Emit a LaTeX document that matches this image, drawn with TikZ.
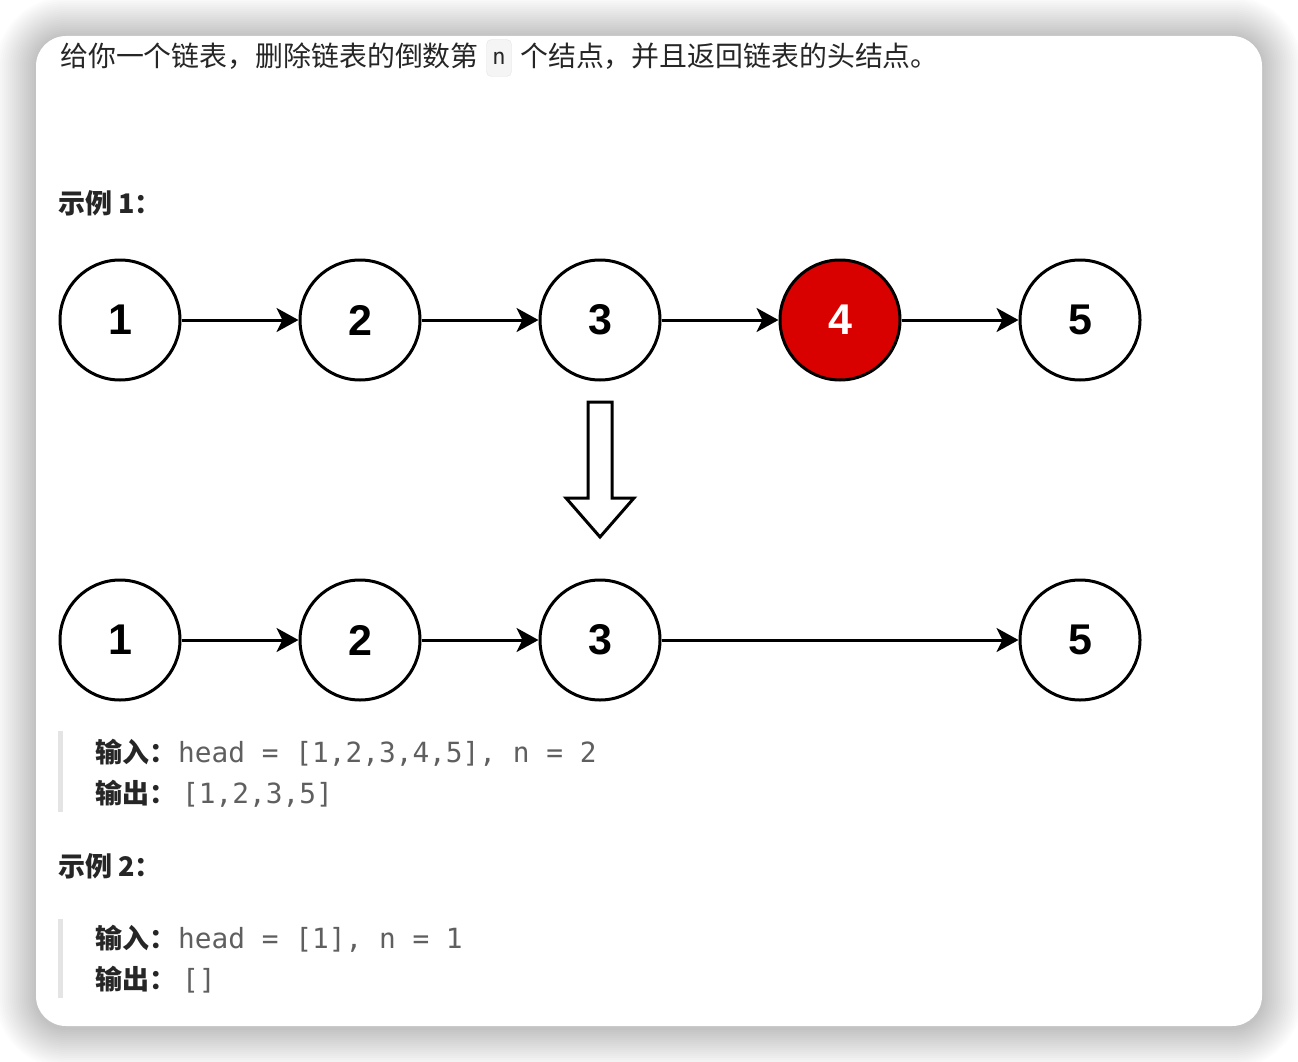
\documentclass[tikz,border=0pt]{standalone}
\usepackage{fontspec}
\setmainfont{Noto Sans CJK SC}
\newfontfamily\cjkf{Noto Sans CJK SC}
\newfontfamily\monof{DejaVu Sans Mono}
\newfontfamily\digitf{Liberation Sans}
\usetikzlibrary{arrows.meta}
\definecolor{txt}{HTML}{262626}
\definecolor{codegray}{HTML}{5F5F5F}
\definecolor{nodered}{HTML}{D90000}
\definecolor{barcol}{HTML}{E4E4E4}
\tikzset{
  lnode/.style={circle,draw=black,line width=3pt,minimum size=120pt,inner sep=0pt,fill=white,
    font=\digitf\bfseries\fontsize{43}{43}\selectfont},
  rednode/.style={lnode,fill=nodered,text=white},
  link/.style={line width=3pt,-{Stealth[length=22pt,width=24pt,inset=6pt]}},
  cjktext/.style={anchor=base west,inner sep=0pt,text=txt,font=\cjkf\fontsize{27.9}{30}\selectfont},
  cjkbold/.style={cjktext,font=\cjkf\bfseries\fontsize{27}{30}\selectfont},
  monotext/.style={anchor=base west,inner sep=0pt,text=codegray,font=\monof\fontsize{27.8}{30}\selectfont},
  qbar/.style={fill=barcol,draw=none},
}
\begin{document}
\begin{tikzpicture}[x=1pt,y=-1pt]
\useasboundingbox (0,0) rectangle (1298,1062);
\fill[white] (0,0) rectangle (1298,1062);
% shadow
\foreach \i in {1,...,20}{
  \fill[black,opacity=0.0105,rounded corners={30pt+\i*2pt}]
    ({36-\i*2},{37-\i*2}) rectangle ({1262+\i*2},{1028+\i*2});
}
% card
\fill[white,rounded corners=30pt] (36,36) rectangle (1262,1026);

% title
\node[cjktext] (t1) at (60,67) {给你一个链表，删除链表的倒数第};
\node[draw=barcol,fill=black!4,rounded corners=5pt,minimum width=25pt,minimum height=37pt,inner sep=0pt,
  text=txt,font=\monof\fontsize{22}{22}\selectfont] (code) at (499,58) {n};
\node[cjktext] (t2) at (520,67) {个结点，并且返回链表的头结点。};

% example 1
\node[cjkbold] (ex1) at (58,213) {示例 1：};

\node[lnode] (a1) at (120,320) {1};
\node[lnode] (a2) at (360,320) {2};
\node[lnode] (a3) at (600,320) {3};
\node[rednode] (a4) at (840,320) {4};
\node[lnode] (a5) at (1080,320) {5};
\draw[link] (a1) -- (a2);
\draw[link] (a2) -- (a3);
\draw[link] (a3) -- (a4);
\draw[link] (a4) -- (a5);

% hollow arrow
\draw[line width=3pt,fill=white,line join=miter]
  (588,402) -- (612,402) -- (612,498) -- (634,498) -- (600,537) -- (566,498) -- (588,498) -- cycle;

\node[lnode] (b1) at (120,640) {1};
\node[lnode] (b2) at (360,640) {2};
\node[lnode] (b3) at (600,640) {3};
\node[lnode] (b5) at (1080,640) {5};
\draw[link] (b1) -- (b2);
\draw[link] (b2) -- (b3);
\draw[link] (b3) -- (b5);

% block 1
\fill[qbar] (58,731) rectangle (63,812);
\node[cjkbold] (in1) at (95,762) {输入：};
\node[monotext] (in1v) at (178,762) {head = [1,2,3,4,5], n = 2};
\node[cjkbold] (out1) at (95,803) {输出：};
\node[monotext] (out1v) at (182,803) {[1,2,3,5]};

% example 2
\node[cjkbold] (ex2) at (58,876) {示例 2：};
\fill[qbar] (58,919) rectangle (63,998);
\node[cjkbold] (in2) at (95,948) {输入：};
\node[monotext] (in2v) at (178,948) {head = [1], n = 1};
\node[cjkbold] (out2) at (95,989) {输出：};
\node[monotext] (out2v) at (182,989) {[]};
\end{tikzpicture}
\end{document}
